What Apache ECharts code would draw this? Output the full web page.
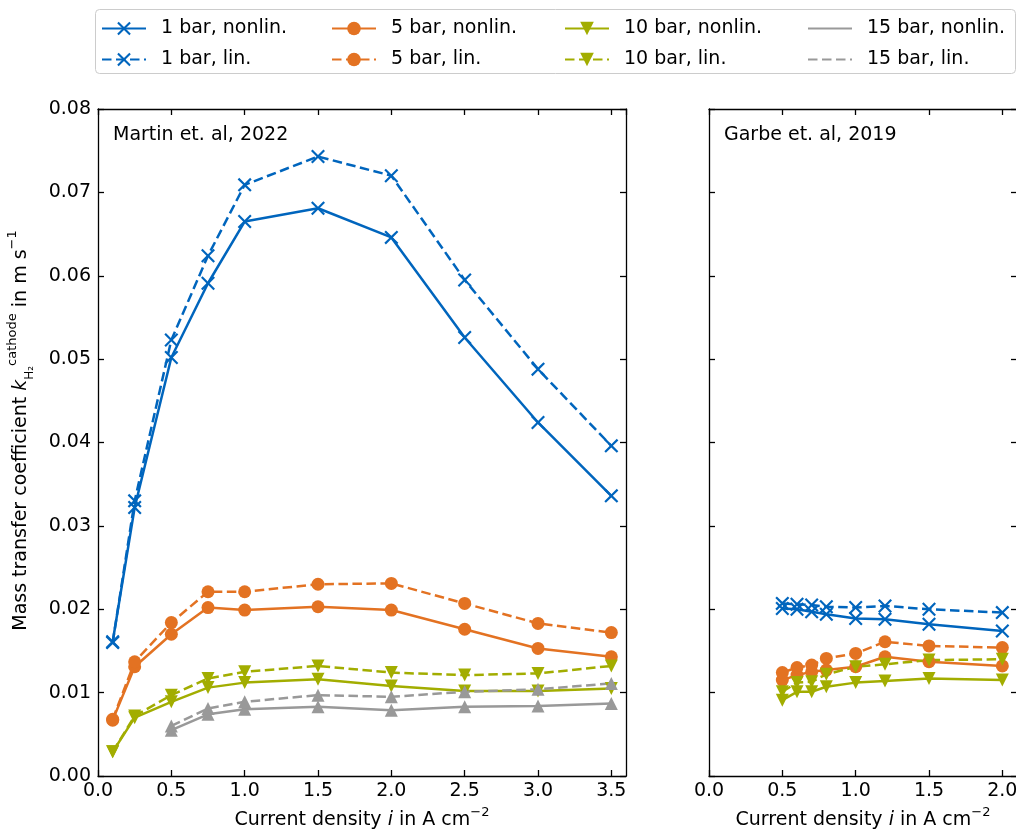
<!DOCTYPE html>
<html>
<head>
<meta charset="utf-8">
<script src="https://cdn.jsdelivr.net/npm/echarts@6/dist/echarts.min.js"></script>
<style>
html,body{margin:0;padding:0;background:#fff;overflow:hidden;}
#chart{width:1016px;height:832px;}
</style>
</head>
<body>
<div id="chart"></div>
<script>
// ---- Data ----
const xLeft = [0.1, 0.25, 0.5, 0.75, 1.0, 1.5, 2.0, 2.5, 3.0, 3.5];
const m1Nonlin  = [0.0161, 0.0322, 0.0502, 0.0591, 0.0665, 0.0681, 0.0646, 0.0526, 0.0424, 0.0336];
const m1Lin     = [0.0160, 0.0330, 0.0523, 0.0624, 0.0709, 0.0743, 0.0720, 0.0595, 0.0488, 0.0396];
const m5Nonlin  = [0.0067, 0.0131, 0.0170, 0.0202, 0.0199, 0.0203, 0.0199, 0.0176, 0.0153, 0.0143];
const m5Lin     = [0.0068, 0.0137, 0.0184, 0.0221, 0.0221, 0.0230, 0.0231, 0.0207, 0.0183, 0.0172];
const m10Nonlin = [0.0029, 0.0070, 0.0089, 0.0106, 0.0112, 0.0116, 0.0108, 0.0102, 0.0102, 0.0105];
const m10Lin    = [0.0029, 0.0072, 0.0097, 0.0117, 0.0125, 0.0132, 0.0124, 0.0121, 0.0123, 0.0132];
const m15Nonlin = [null, null, 0.0055, 0.0074, 0.0080, 0.0083, 0.0079, 0.0083, 0.0084, 0.0087];
const m15Lin    = [null, null, 0.0060, 0.0081, 0.0089, 0.0097, 0.0095, 0.0101, 0.0104, 0.0111];

const xRight = [0.5, 0.6, 0.7, 0.8, 1.0, 1.2, 1.5, 2.0];
const g1Nonlin  = [0.0201, 0.0200, 0.0197, 0.0194, 0.0189, 0.0188, 0.0182, 0.0174];
const g1Lin     = [0.0207, 0.0206, 0.0205, 0.0203, 0.0202, 0.0204, 0.0200, 0.0196];
const g5Nonlin  = [0.0115, 0.0121, 0.0125, 0.0127, 0.0131, 0.0143, 0.0137, 0.0132];
const g5Lin     = [0.0124, 0.0130, 0.0133, 0.0141, 0.0147, 0.0161, 0.0156, 0.0154];
const g10Nonlin = [0.0091, 0.0101, 0.0101, 0.0107, 0.0112, 0.0114, 0.0117, 0.0115];
const g10Lin    = [0.0101, 0.0112, 0.0113, 0.0122, 0.0131, 0.0134, 0.0139, 0.0140];

const names = ['1 bar, nonlin.', '1 bar, lin.', '5 bar, nonlin.', '5 bar, lin.',
               '10 bar, nonlin.', '10 bar, lin.', '15 bar, nonlin.', '15 bar, lin.'];
const panelTitles = ['Martin et. al, 2022', 'Garbe et. al, 2019'];

// ---- Styling ----
const FONT = 'DejaVu Sans';
const BLUE = '#0065bd', ORANGE = '#e37222', OLIVE = '#a2ad00', GREY = '#999999';
const CROSS = 'path://M0,2.2 L2.2,0 L10,7.8 L17.8,0 L20,2.2 L12.2,10 L20,17.8 L17.8,20 L10,12.2 L2.2,20 L0,17.8 L7.8,10 Z';
const DASH = [9.5, 4.5];

function pairs(xs, ys) {
  const out = [];
  for (let i = 0; i < xs.length; i++) if (ys[i] !== null) out.push([xs[i], ys[i]]);
  return out;
}
function mk(name, xs, ys, color, symbol, dashed, panel) {
  return {
    name: name, type: 'line',
    xAxisIndex: panel === 0 ? 0 : 2, yAxisIndex: panel === 0 ? 0 : 2,
    data: pairs(xs, ys),
    symbol: symbol, symbolSize: symbol === CROSS ? 14 : 13,
    symbolRotate: color === OLIVE ? 180 : 0,
    showSymbol: true,
    itemStyle: { color: color, borderWidth: 0 },
    lineStyle: { color: color, width: 2.5, type: dashed ? DASH : 'solid' },
    emphasis: { disabled: true },
    clip: false
  };
}

const series = [
  mk(names[0], xLeft, m1Nonlin, BLUE, CROSS, false, 0),
  mk(names[1], xLeft, m1Lin, BLUE, CROSS, true, 0),
  mk(names[2], xLeft, m5Nonlin, ORANGE, 'circle', false, 0),
  mk(names[3], xLeft, m5Lin, ORANGE, 'circle', true, 0),
  mk(names[4], xLeft, m10Nonlin, OLIVE, 'triangle', false, 0),
  mk(names[5], xLeft, m10Lin, OLIVE, 'triangle', true, 0),
  mk(names[6], xLeft, m15Nonlin, GREY, 'triangle', false, 0),
  mk(names[7], xLeft, m15Lin, GREY, 'triangle', true, 0),
  mk(names[0], xRight, g1Nonlin, BLUE, CROSS, false, 1),
  mk(names[1], xRight, g1Lin, BLUE, CROSS, true, 1),
  mk(names[2], xRight, g5Nonlin, ORANGE, 'circle', false, 1),
  mk(names[3], xRight, g5Lin, ORANGE, 'circle', true, 1),
  mk(names[4], xRight, g10Nonlin, OLIVE, 'triangle', false, 1),
  mk(names[5], xRight, g10Lin, OLIVE, 'triangle', true, 1)
];

const axisLine = { show: true, onZero: false, lineStyle: { color: '#000', width: 1.3 } };
const tickIn = { show: true, inside: true, length: 6, lineStyle: { color: '#000', width: 1.3 } };

function xAx(grid, pos, max, labels) {
  return {
    type: 'value', gridIndex: grid, position: pos, min: 0, max: max, interval: 0.5,
    axisLine: axisLine, axisTick: tickIn, splitLine: { show: false },
    axisLabel: { show: labels, color: '#000', fontSize: 19, fontFamily: FONT, margin: 6,
                 showMaxLabel: false, formatter: v => v.toFixed(1) },
    name: labels ? 'Current density {i|i} in A cm{sup|−2}' : '',
    nameLocation: 'middle', nameGap: 30,
    nameTextStyle: { color: '#000', fontSize: 19, fontFamily: FONT, lineHeight: 28,
      rich: { i: { fontStyle: 'italic', fontSize: 19, fontFamily: FONT, color: '#000', lineHeight: 28 },
              sup: { fontSize: 13, fontFamily: FONT, color: '#000', verticalAlign: 'top', lineHeight: 14 } } }
  };
}
function yAx(grid, pos, labels, named) {
  return {
    type: 'value', gridIndex: grid, position: pos, min: 0, max: 0.08, interval: 0.01,
    axisLine: axisLine, axisTick: tickIn, splitLine: { show: false },
    axisLabel: { show: labels, color: '#000', fontSize: 19, fontFamily: FONT, margin: 7,
                 formatter: v => v.toFixed(2) },
    name: named ? 'Mass transfer coefficient {i|k}{sub|H₂}{sup|cathode} in m s{sup|−1}' : '',
    nameLocation: 'middle', nameRotate: 90, nameGap: 62,
    nameTextStyle: { color: '#000', fontSize: 19, fontFamily: FONT, lineHeight: 30, padding: [0, 0, 0, 24],
      rich: { i: { fontStyle: 'italic', fontSize: 19, fontFamily: FONT, color: '#000', lineHeight: 30 },
              sub: { fontSize: 12, fontFamily: FONT, color: '#000', verticalAlign: 'bottom', lineHeight: 16 },
              sup: { fontSize: 13, fontFamily: FONT, color: '#000', verticalAlign: 'top', lineHeight: 14 } } }
  };
}

function legendCol(left, items) {
  return {
    left: left, top: 19, orient: 'vertical', itemWidth: 44, itemHeight: 17, itemGap: 12,
    selectedMode: false, padding: 0,
    data: items.map(n => n.indexOf('15 bar') === 0
      ? { name: n, itemStyle: { color: 'rgba(0,0,0,0)', borderColor: 'rgba(0,0,0,0)' } }
      : { name: n }),
    textStyle: { color: '#000', fontSize: 19, fontFamily: FONT, lineHeight: 17, padding: [0, 0, 0, 10] }
  };
}

const chart = echarts.init(document.getElementById('chart'), null, { renderer: 'canvas', width: 1016, height: 832 });
chart.setOption({
  animation: false,
  backgroundColor: '#fff',
  textStyle: { fontFamily: FONT },
  title: [
    { text: panelTitles[0], left: 113, top: 124, padding: 0,
      textStyle: { fontSize: 19, fontWeight: 'normal', color: '#000', fontFamily: FONT, lineHeight: 22 } },
    { text: panelTitles[1], left: 724, top: 124, padding: 0,
      textStyle: { fontSize: 19, fontWeight: 'normal', color: '#000', fontFamily: FONT, lineHeight: 22 } }
  ],
  graphic: [{
    type: 'rect', left: 95, top: 9, z: -1, silent: true,
    shape: { width: 920, height: 64, r: 4 },
    style: { fill: '#fff', stroke: '#cccccc', lineWidth: 1 }
  }],
  legend: [
    legendCol(101, [names[0], names[1]]),
    legendCol(331, [names[2], names[3]]),
    legendCol(564, [names[4], names[5]]),
    legendCol(807, [names[6], names[7]])
  ],
  grid: [
    { left: 98, top: 109, width: 528, height: 667, containLabel: false, outerBoundsMode: 'none' },
    { left: 709, top: 109, width: 308, height: 667, containLabel: false, outerBoundsMode: 'none' }
  ],
  xAxis: [ xAx(0, 'bottom', 3.6, true), xAx(0, 'top', 3.6, false),
           xAx(1, 'bottom', 2.1, true), xAx(1, 'top', 2.1, false) ],
  yAxis: [ yAx(0, 'left', true, true), yAx(0, 'right', false, false),
           yAx(1, 'left', false, false), yAx(1, 'right', false, false) ],
  series: series
});
</script>
</body>
</html>
